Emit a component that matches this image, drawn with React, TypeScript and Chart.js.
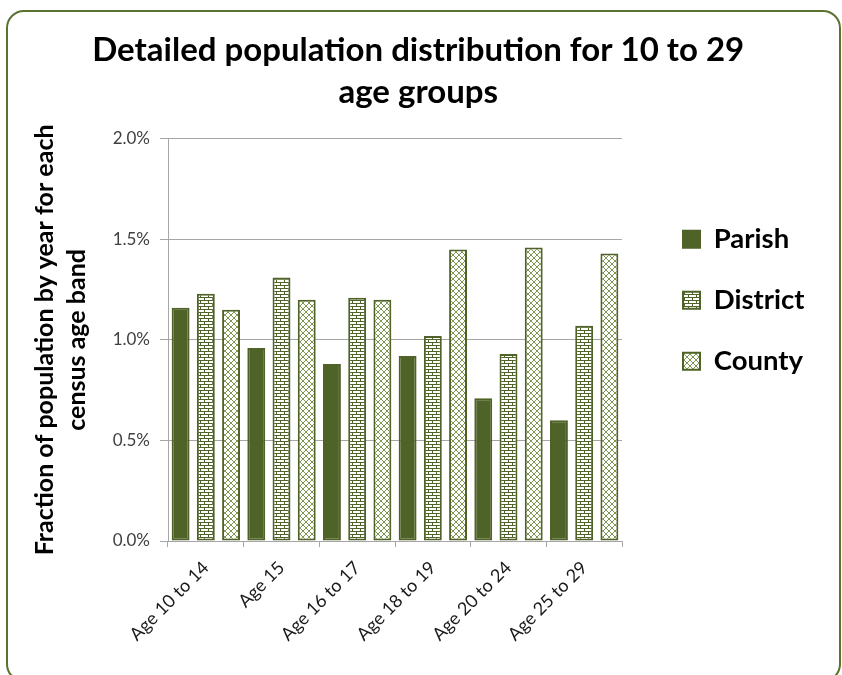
import React, { useEffect, useRef } from "react";
import { Chart, registerables } from "chart.js";

Chart.register(...registerables);

const categories = ["Age 10 to 14", "Age 15", "Age 16 to 17", "Age 18 to 19", "Age 20 to 24", "Age 25 to 29"];
const seriesNames = ["Parish", "District", "County"];
const parish = [1.16, 0.96, 0.88, 0.92, 0.71, 0.6];
const district = [1.23, 1.31, 1.21, 1.02, 0.93, 1.07];
const county = [1.15, 1.2, 1.2, 1.45, 1.46, 1.43];
const yMin = 0;
const yMax = 2;
const yStep = 0.5;
const titleLines = ["Detailed population distribution for 10 to 29", "age groups"];
const yTitleLines = ["Fraction of population by year for each", "census age band"];

const FONT = "Lato, Carlito, 'Liberation Sans', sans-serif";
const DARK = "#4f6228";
const HATCH = "#7f9650";
const GRID = "#a6a6a6";

const LEGEND_SIZE = 27.5;
const LEGEND_PAD = 33.5;
const LEGEND_BOX = 17;
const PLOT_LEFT = 168;
const PLOT_RIGHT = 622;
const GAP_RIGHT = 27.5;
const PAD_LEFT = 22;

function brickPattern(): CanvasPattern | string {
  const c = document.createElement("canvas");
  c.width = 8;
  c.height = 6;
  const g = c.getContext("2d");
  if (!g) return "#fff";
  g.fillStyle = "#ffffff";
  g.fillRect(0, 0, 8, 6);
  g.fillStyle = DARK;
  g.fillRect(0, 0, 8, 1);
  g.fillRect(0, 3, 8, 1);
  g.fillRect(0, 0, 1, 3);
  g.fillRect(4, 3, 1, 3);
  return g.createPattern(c, "repeat") || "#fff";
}

function crossPattern(): CanvasPattern | string {
  const s = 6;
  const c = document.createElement("canvas");
  c.width = s;
  c.height = s;
  const g = c.getContext("2d");
  if (!g) return "#fff";
  g.fillStyle = "#ffffff";
  g.fillRect(0, 0, s, s);
  g.strokeStyle = HATCH;
  g.lineWidth = 1;
  g.beginPath();
  g.moveTo(-1, -1);
  g.lineTo(s + 1, s + 1);
  g.moveTo(s + 1, -1);
  g.lineTo(-1, s + 1);
  g.stroke();
  return g.createPattern(c, "repeat") || "#fff";
}

function legendWidth(): number {
  const c = document.createElement("canvas");
  const g = c.getContext("2d");
  if (!g) return 170;
  g.font = `bold ${LEGEND_SIZE}px ${FONT}`;
  let w = 0;
  for (const n of seriesNames) w = Math.max(w, g.measureText(n).width);
  return LEGEND_PAD + LEGEND_BOX + LEGEND_SIZE / 2 + w + 10;
}

export default function App() {
  const ref = useRef<HTMLCanvasElement | null>(null);

  useEffect(() => {
    if (!ref.current) return;
    const lw = legendWidth();
    const rightPad = Math.max(0, 842 - PLOT_RIGHT - GAP_RIGHT - lw);
    const bar = {
      borderColor: DARK,
      borderWidth: 2,
      borderSkipped: false as const,
      categoryPercentage: 1.0,
      barPercentage: 0.71,
    };
    const chart = new Chart(ref.current, {
      type: "bar",
      data: {
        labels: categories,
        datasets: [
          { label: seriesNames[0], data: parish, backgroundColor: DARK, ...bar },
          { label: seriesNames[1], data: district, backgroundColor: brickPattern() as any, ...bar },
          { label: seriesNames[2], data: county, backgroundColor: crossPattern() as any, ...bar },
        ],
      },
      options: {
        responsive: false,
        animation: false,
        events: [],
        layout: { padding: { top: 10, left: PAD_LEFT, right: rightPad, bottom: 0 } },
        plugins: {
          title: {
            display: true,
            text: titleLines,
            color: "#000",
            font: { family: FONT, size: 33, weight: "bold", lineHeight: 1.3 },
            padding: { top: 18.5, bottom: 24.5 },
          },
          legend: {
            position: "right",
            align: "start",
            fullSize: false,
            title: {
              display: true,
              text: " ",
              color: "rgba(0,0,0,0)",
              font: { family: FONT, size: 10, lineHeight: 1.2 },
              padding: { top: 41.25, bottom: 0 },
            },
            labels: {
              boxWidth: LEGEND_BOX,
              boxHeight: LEGEND_BOX,
              padding: LEGEND_PAD,
              color: "#000",
              textAlign: "left",
              font: { family: FONT, size: LEGEND_SIZE, weight: "bold" },
            },
          },
          tooltip: { enabled: false },
        },
        scales: {
          x: {
            grid: { drawOnChartArea: false, color: GRID, tickLength: 6, offset: true },
            border: { color: GRID },
            ticks: {
              autoSkip: false,
              minRotation: 45,
              maxRotation: 45,
              padding: 10,
              color: "#1a1a1a",
              font: { family: FONT, size: 18 },
            },
            afterFit: (s: any) => {
              s.height = 134;
            },
          },
          y: {
            min: yMin,
            max: yMax,
            ticks: {
              stepSize: yStep,
              padding: 10,
              color: "#404040",
              font: { family: FONT, size: 17 },
              callback: (v: any) => Number(v).toFixed(1) + "%",
            },
            grid: { color: GRID, tickLength: 8 },
            border: { color: GRID },
            title: {
              display: true,
              text: yTitleLines,
              color: "#000",
              font: { family: FONT, size: 25, weight: "bold", lineHeight: 1.28 },
              padding: { top: 7, bottom: 0 },
            },
            afterFit: (s: any) => {
              s.width = PLOT_LEFT - PAD_LEFT;
            },
          },
          yPad: {
            position: "right",
            display: false,
            afterFit: (s: any) => {
              s.width = GAP_RIGHT;
            },
          },
        },
      } as any,
    });
    return () => chart.destroy();
  }, []);

  return (
    <div
      style={{
        position: "absolute",
        left: 0,
        top: 0,
        width: 842,
        height: 675,
        background: "#fff",
        overflow: "hidden",
      }}
    >
      <div
        style={{
          position: "absolute",
          left: 6,
          top: 10,
          width: 835,
          height: 672,
          boxSizing: "border-box",
          border: "2.5px solid #5a7230",
          borderRadius: 18,
        }}
      />
      <canvas ref={ref} width={842} height={675} style={{ position: "absolute", left: 0, top: 0 }} />
    </div>
  );
}
